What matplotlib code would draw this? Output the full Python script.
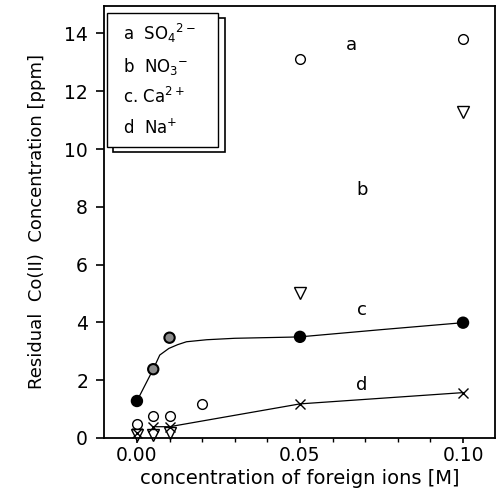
import matplotlib
matplotlib.use("Agg")
import matplotlib.pyplot as plt
from matplotlib.patches import Rectangle

plt.rcParams['font.family'] = ['DejaVu Sans']

# -------- data -------- #
# a: SO4 2- (open circles)
a_x = [0.0, 0.005, 0.01, 0.02, 0.05, 0.10]
a_y = [0.48, 0.77, 0.77, 1.17, 13.1, 13.8]
# b: NO3 - (open down triangles)
b_x = [0.0, 0.005, 0.01, 0.05, 0.10]
b_y = [0.1, 0.1, 0.17, 5.0, 11.29]
# c: Ca 2+ (filled circles) + fitted curve
c_x = [0.0, 0.005, 0.01, 0.05, 0.10]
c_y = [1.28, 2.38, 3.47, 3.5, 3.99]
c_face = ['black', '0.55', '0.55', 'black', 'black']
c_fit_x = [0.0, 0.005, 0.007, 0.0098, 0.0125, 0.0152, 0.0214, 0.03, 0.047, 0.05, 0.075, 0.10]
c_fit_y = [1.28, 2.38, 2.87, 3.10, 3.23, 3.33, 3.40, 3.45, 3.49, 3.5, 3.75, 3.99]
# d: Na + (crosses)
d_x = [0.0, 0.005, 0.01, 0.05, 0.10]
d_y = [0.17, 0.39, 0.39, 1.18, 1.57]
d_fit_x = [0.005, 0.01, 0.05, 0.10]
d_fit_y = [0.39, 0.39, 1.18, 1.57]

legend_lines = ['a  SO$_4$$^{2-}$', 'b  NO$_3$$^{-}$', 'c. Ca$^{2+}$', 'd  Na$^{+}$']
curve_labels = ['a', 'b', 'c', 'd']
label_pos = [(0.0659, 13.6), (0.0689, 8.58), (0.0689, 4.43), (0.0689, 1.83)]

# -------- figure -------- #
fig = plt.figure(figsize=(4.99, 4.94), dpi=100)
ax = fig.add_axes([0.2084, 0.1134, 0.7836, 0.8745])

ax.plot(c_fit_x, c_fit_y, color='black', lw=0.9)
ax.plot(d_fit_x, d_fit_y, color='black', lw=0.9)

ax.plot(a_x, a_y, 'o', ms=7, mfc='white', mec='black', mew=1.0, ls='none', clip_on=False)
ax.plot(b_x, b_y, 'v', ms=8, mfc='white', mec='black', mew=1.0, ls='none', clip_on=False)
ax.scatter(c_x, c_y, s=55, c=c_face, edgecolors='black', linewidths=1.5, zorder=3)
ax.plot(d_x, d_y, 'x', ms=7, color='black', mew=1.0, ls='none', clip_on=False)

for lab, (lx, ly) in zip(curve_labels, label_pos):
    ax.text(lx, ly, lab, fontsize=13, ha='center', va='center')

ax.set_xlim(-0.0101, 0.1098)
ax.set_ylim(0, 14.95)
ax.set_xticks([0.0, 0.05, 0.10])
ax.set_xticklabels(['0.00', '0.05', '0.10'])
ax.set_xticks([0.01, 0.02, 0.03, 0.04, 0.06, 0.07, 0.08, 0.09], minor=True)
ax.set_yticks([0, 2, 4, 6, 8, 10, 12, 14])
ax.tick_params(direction='out', length=5.5, width=1.2, labelsize=13.5)
ax.tick_params(axis='y', pad=6)
ax.tick_params(axis='x', length=3.5, pad=2.5)
ax.tick_params(which='minor', direction='out', length=3, width=1.0)
for s in ax.spines.values():
    s.set_linewidth(1.3)

ax.set_xlabel('concentration of foreign ions [M]', fontsize=14, labelpad=3)
ax.set_ylabel('Residual  Co(II)  Concentration [ppm]', fontsize=13, labelpad=13)

# legend box with shadow, drawn in axes coordinates
shadow = Rectangle((0.023, 0.663), 0.286, 0.309, transform=ax.transAxes,
                   facecolor='white', edgecolor='black', lw=1.2, zorder=4)
box = Rectangle((0.0084, 0.674), 0.284, 0.31, transform=ax.transAxes,
                facecolor='white', edgecolor='black', lw=1.0, zorder=5)
ax.add_patch(shadow)
ax.add_patch(box)
legend_y = [0.9375, 0.859, 0.789, 0.718]
for t, ty in zip(legend_lines, legend_y):
    ax.text(0.049, ty, t, transform=ax.transAxes, fontsize=12,
            va='center', ha='left', zorder=6)

fig.savefig('out.png', dpi=100)
